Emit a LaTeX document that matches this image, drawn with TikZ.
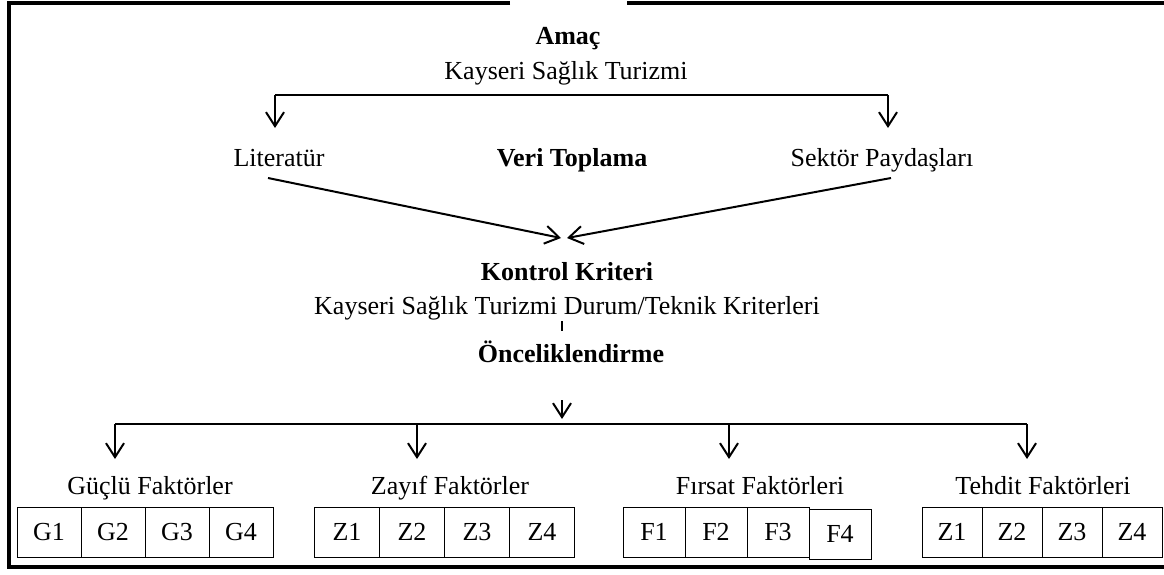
\documentclass[tikz,border=0pt]{standalone}
\usepackage{fontspec}
\setmainfont{Liberation Serif}
\usetikzlibrary{positioning, arrows.meta}

\tikzset{
  txt/.style={inner sep=0pt, anchor=base, font=\fontsize{26}{30}\selectfont},
  bold/.style={txt, font=\fontsize{26}{30}\selectfont\bfseries},
  cell/.style={draw, line width=1pt, inner sep=0pt, outer sep=0pt, minimum height=50pt, font=\fontsize{26}{30}\selectfont},
  link/.style={line width=2pt},
  flow/.style={link, -{Straight Barb[length=14pt,width=18pt]}},
}

\begin{document}
\begin{tikzpicture}[x=1pt, y=-1pt]
\useasboundingbox (0,0) rectangle (1164,574);
% frame
\draw[line width=4pt] (510,3) -- (9,3) -- (9,567) -- (1185,567);
\draw[line width=4pt] (627,3) -- (1185,3);

% top part
\node[bold] (amac) at (568,44) {Amaç};
\node[txt] (goal) at (566,79) {Kayseri Sağlık Turizmi};
\node[txt] (lit) at (279,166) {Literatür};
\node[bold] (veri) at (572,166) {Veri Toplama};
\node[txt] (sektor) at (882,166) {Sektör Paydaşları};
\node[bold] (kontrol) at (567,280) {Kontrol Kriteri};
\node[txt] (kriter) at (567,314) {Kayseri Sağlık Turizmi Durum/Teknik Kriterleri};
\node[bold] (oncelik) at (571,362) {Önceliklendirme};

\coordinate (splitL) at (275,95);
\coordinate (splitR) at (888,95);
\coordinate (litIn) at (275,128);
\coordinate (sekIn) at (888,128);
\coordinate (litOut) at (268,178);
\coordinate (sekOut) at (891,178);
\coordinate (merge) at (564,238);
\coordinate (tickA) at (562,321);
\coordinate (tickB) at (562,331);

\draw[link] (splitL) -- (splitR);
\draw[flow] (splitL) -- (litIn);
\draw[flow] (splitR) -- (sekIn);
\draw[flow] (litOut) -- ([xshift=-3pt]merge);
\draw[flow] (sekOut) -- ([xshift=3pt]merge);
\draw[line width=1.5pt] (tickA) -- (tickB);

% bottom part
\node[txt] (guclu) at (150,494) {Güçlü Faktörler};
\node[txt] (zayif) at (450,494) {Zayıf Faktörler};
\node[txt] (firsat) at (760,494) {Fırsat Faktörleri};
\node[txt] (tehdit) at (1043,494) {Tehdit Faktörleri};

\coordinate (fanTop) at (562,400);
\coordinate (fanIn) at (562,419);
\coordinate (jG) at (115,424);
\coordinate (jZ) at (417,424);
\coordinate (jF) at (729,424);
\coordinate (jT) at (1027,424);

\draw[flow] (fanTop) -- (fanIn);
\draw[link] (jG) -- (jT);
\foreach \j in {jG,jZ,jF,jT}
  \draw[flow] (\j) -- ++(0,35);

% factor cells
\node[cell, minimum width=64pt] (G1) at (49,532) {G1};
\foreach \i [remember=\i as \k (initially 1)] in {2,3,4}
  \node[cell, minimum width=64pt, right=0pt of G\k] (G\i) {G\i};
\node[cell, minimum width=65pt] (Z1) at (347,532) {Z1};
\foreach \i [remember=\i as \k (initially 1)] in {2,3,4}
  \node[cell, minimum width=65pt, right=0pt of Z\k] (Z\i) {Z\i};
\node[cell, minimum width=62pt] (F1) at (654,532) {F1};
\foreach \i [remember=\i as \k (initially 1)] in {2,3}
  \node[cell, minimum width=62pt, right=0pt of F\k] (F\i) {F\i};
\node[cell, minimum width=62pt, right=0pt of F3, yshift=-2pt] (F4) {F4};
\node[cell, minimum width=60pt] (T1) at (952,532) {Z1};
\foreach \i [remember=\i as \k (initially 1)] in {2,3,4}
  \node[cell, minimum width=60pt, right=0pt of T\k] (T\i) {Z\i};
\end{tikzpicture}
\end{document}
